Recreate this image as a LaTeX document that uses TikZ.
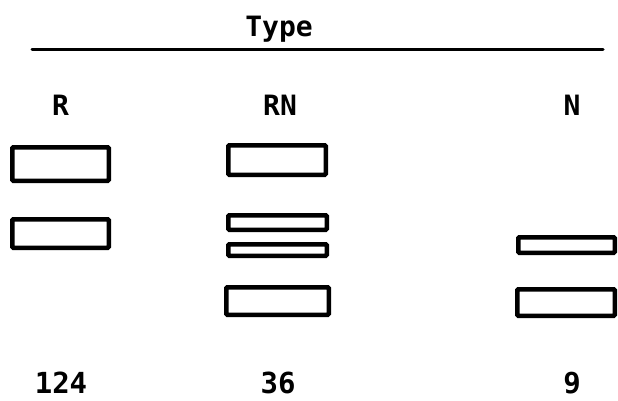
\documentclass[tikz,border=0pt]{standalone}
\usepackage{fontspec}
\setmainfont{DejaVu Sans Mono}
\begin{document}
\begin{tikzpicture}[x=1pt,y=-1pt,
  lbl/.style={font=\fontsize{28}{30}\selectfont\bfseries, anchor=base, inner sep=0pt},
  num/.style={font=\fontsize{29}{32}\selectfont\bfseries, anchor=base, inner sep=0pt},
  bar/.style={draw=black, line width=4.5pt, rounded corners=1pt, inner sep=0pt, minimum width=#1},
  bar/.default=97pt]
\useasboundingbox (0,0) rectangle (618,400);
% header
\node[lbl] (type) at (279,36) {Type};
\coordinate (ruleL) at (32,49);
\coordinate (ruleR) at (603,49);
\draw[line width=3pt, line cap=round] (ruleL) -- (ruleR);
\node[lbl] (colR) at (60.5,115) {R};
\node[lbl] (colRN) at (280,115) {RN};
\node[lbl] (colN) at (572,115) {N};
% R column
\node[bar=96.5pt, minimum height=33.5pt] (r1) at (60.5,164) {};
\node[bar=96.5pt, minimum height=28.5pt] (r2) at (60.5,233.5) {};
% RN column
\node[bar=97.5pt, minimum height=29.5pt] (rn1) at (277,160) {};
\node[bar=98.5pt, minimum height=14.5pt] (rn2) at (277.5,222.5) {};
\node[bar=98.5pt, minimum height=11.5pt] (rn3) at (277.5,250) {};
\node[bar=102.5pt, minimum height=27.5pt] (rn4) at (277.5,301) {};
% N column
\node[bar=96.5pt, minimum height=15.5pt] (n1) at (566.5,245) {};
\node[bar=97.5pt, minimum height=26.5pt] (n2) at (566,302.5) {};
% counts
\node[num] (cR) at (61,393) {124};
\node[num] (cRN) at (278,393) {36};
\node[num] (cN) at (572,393) {9};
\end{tikzpicture}
\end{document}
